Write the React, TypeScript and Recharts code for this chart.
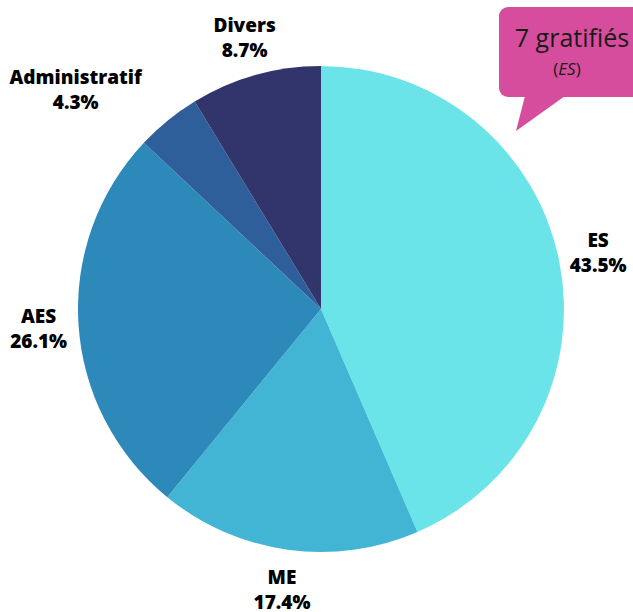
import { PieChart, Pie, Cell } from 'recharts';

// ── Data ──

const categories = ['ES', 'ME', 'AES', 'Administratif', 'Divers'];
const shares = [43.5, 17.4, 26.1, 4.3, 8.7];
const colors = ['#6ae4e9', '#42b5d4', '#2d89b9', '#2f5f9a', '#32346c'];

const calloutCount = 7;
const calloutText = 'gratifiés';
const calloutSub = 'ES';

// small manual nudge so the Administratif label clears Divers
const labelNudge: Record<string, number> = { Administratif: -67 };

const RAD = Math.PI / 180;

function SliceLabel({ cx, cy, midAngle, outerRadius, name, value }: any) {
  const r = outerRadius + 40;
  const x = cx + r * Math.cos(-midAngle * RAD) + (labelNudge[name] || 0);
  const y = cy + r * Math.sin(-midAngle * RAD);
  return (
    <text
      x={x}
      y={y}
      textAnchor="middle"
      fill="#000"
      style={{ fontFamily: '"Open Sans", sans-serif', fontSize: 19, fontWeight: 800 }}
    >
      <tspan x={x} dy={-5}>{name}</tspan>
      <tspan x={x} dy={25}>{value.toFixed(1)}%</tspan>
    </text>
  );
}

export default function App() {
  const data = categories.map((c, i) => ({ name: c, value: shares[i] }));

  return (
    <div style={{ position: 'absolute', left: 0, top: 0, width: 633, height: 612, background: '#fff', overflow: 'hidden' }}>
      <PieChart width={633} height={612} margin={{ top: 0, right: 0, bottom: 0, left: 0 }}>
        <Pie
          data={data}
          dataKey="value"
          nameKey="name"
          cx={321}
          cy={309}
          outerRadius={243}
          startAngle={90}
          endAngle={-270}
          stroke="none"
          label={SliceLabel}
          labelLine={false}
          isAnimationActive={false}
        >
          {data.map((_, i) => (
            <Cell key={i} fill={colors[i]} />
          ))}
        </Pie>
      </PieChart>
      {/* callout bubble */}
      <svg width={633} height={612} style={{ position: 'absolute', left: 0, top: 0, pointerEvents: 'none' }}>
        <rect x={499} y={7} width={160} height={90} rx={9} fill="#d54d9c" />
        <polygon points="525,96 516,131 565,96" fill="#d54d9c" />
        <text
          x={572}
          y={47}
          textAnchor="middle"
          fill="#1a1a1a"
          style={{ fontFamily: '"Open Sans", sans-serif', fontSize: 25 }}
        >
          {calloutCount} {calloutText}
        </text>
        <text
          x={567}
          y={75}
          textAnchor="middle"
          fill="#1a1a1a"
          style={{ fontFamily: '"Open Sans", sans-serif', fontSize: 17 }}
        >
          (<tspan fontStyle="italic">{calloutSub}</tspan>)
        </text>
      </svg>
    </div>
  );
}
